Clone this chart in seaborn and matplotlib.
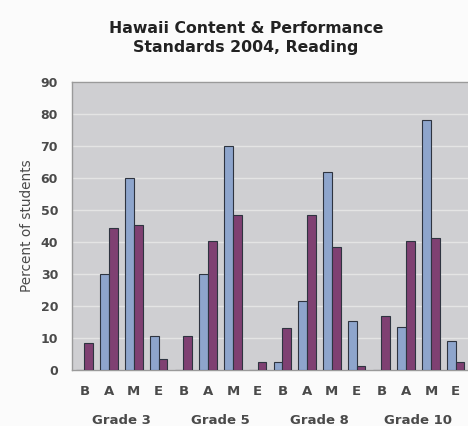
import matplotlib
matplotlib.use("Agg")
import matplotlib.pyplot as plt
import matplotlib.transforms as mtransforms
import seaborn as sns
import pandas as pd

# ---- data ----
grades = ["Grade 3", "Grade 5", "Grade 8", "Grade 10"]
levels = ["B", "A", "M", "E"]
series_names = ["Series 1", "Series 2"]
series1 = [0, 30, 60, 10.5, 0, 30, 70, 0, 2.5, 21.5, 62, 15.3, 0, 13.4, 78, 9.2]
series2 = [8.5, 44.3, 45.4, 3.5, 10.6, 40.2, 48.3, 2.6, 13.2, 48.3, 38.3, 1.2, 17, 40.4, 41.2, 2.6]
yticks = [0, 10, 20, 30, 40, 50, 60, 70, 80, 90]
title = "Hawaii Content & Performance\nStandards 2004, Reading"
ylabel = "Percent of students"

slots = [f"{g}|{l}" for g in grades for l in levels]
rows = []
for name, vals in zip(series_names, [series1, series2]):
    for s, v in zip(slots, vals):
        rows.append({"slot": s, "series": name, "pct": v})
df = pd.DataFrame(rows)

sns.set_style("white")
plt.rcParams["font.family"] = ["DejaVu Sans"]

fig = plt.figure(figsize=(4.68, 4.26), dpi=100)
fig.patch.set_facecolor("#fbfbfb")
ax = fig.add_axes([72 / 468, 1 - 370 / 426, (468 - 72) / 468, (370 - 82) / 426])
ax.set_facecolor("#cfcfd2")

sns.barplot(data=df, x="slot", y="pct", hue="series", order=slots,
            hue_order=series_names, palette=["#84a3d6", "#8a3578"],
            width=0.7, edgecolor="#2e3440", linewidth=0.8, ax=ax,
            legend=False, zorder=3)

ax.set_ylim(0, 90)
ax.set_xlim(-0.5, len(slots) - 0.5)
ax.set_yticks(yticks)
ax.set_yticklabels([str(t) for t in yticks], fontsize=9, fontweight="bold", color="#4a4a4a")
ax.yaxis.grid(True, color="#e4e4e4", linewidth=1.0, zorder=0)
ax.set_axisbelow(True)
ax.tick_params(axis="y", length=0, pad=10)
ax.set_ylabel(ylabel, fontsize=9.8, color="#4a4a4a")
ax.yaxis.set_label_coords((34 - 72) / 396, 0.5)
ax.set_xlabel("")

for sp in ["left", "bottom", "top"]:
    ax.spines[sp].set_color("#9a9a9a")
    ax.spines[sp].set_linewidth(1.0)
ax.spines["right"].set_visible(False)

# category boundaries as ticks
n = len(slots)
major = [i * len(levels) - 0.5 for i in range(len(grades) + 1)]
minor = [i - 0.5 for i in range(n + 1) if (i % len(levels)) != 0]
ax.set_xticks(major)
ax.set_xticks(minor, minor=True)
ax.set_xticklabels([])
ax.tick_params(axis="x", which="major", length=41, color="#d8d8d8", width=1, direction="out")
ax.tick_params(axis="x", which="minor", length=8, color="#d8d8d8", width=1, direction="out")

trans = mtransforms.blended_transform_factory(ax.transData, ax.transAxes)
for i, s in enumerate(slots):
    ax.text(i, -0.075, s.split("|")[1], transform=trans, ha="center", va="center",
            fontsize=9.5, fontweight="bold", color="#4a4a4a")
for gi, g in enumerate(grades):
    ax.text(gi * len(levels) + 1.5, -0.175, g, transform=trans, ha="center",
            va="center", fontsize=9.5, fontweight="bold", color="#4a4a4a")

fig.text(246 / 468, 1 - 38 / 426, title, ha="center", va="center",
         fontsize=11.3, fontweight="bold", color="#222222", linespacing=1.3)

fig.savefig("out.png", dpi=100, facecolor=fig.get_facecolor())
